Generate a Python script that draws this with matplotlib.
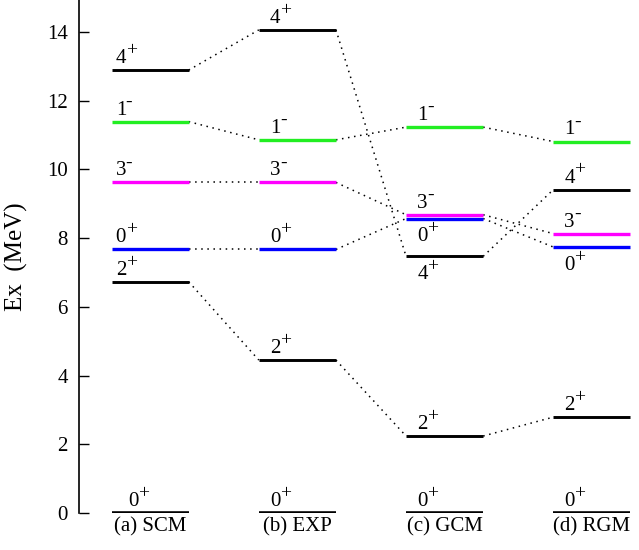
import matplotlib
matplotlib.use("Agg")
from matplotlib import pyplot as plt

plt.rcParams["font.family"] = "Liberation Serif"

# models along the x axis
models = ["(a) SCM", "(b) EXP", "(c) GCM", "(d) RGM"]

# levels per state, one value per model
states = ["0+", "2+", "0+*", "3-", "1-", "4+"]
spins = ["0", "2", "0", "3", "1", "4"]
parities = ["+", "+", "+", "-", "-", "+"]
energies = {
    "0+":  [0.0, 0.0, 0.0, 0.0],
    "2+":  [6.73, 4.45, 2.24, 2.79],
    "0+*": [7.67, 7.67, 8.57, 7.74],
    "3-":  [9.62, 9.62, 8.68, 8.13],
    "1-":  [11.39, 10.86, 11.23, 10.81],
    "4+":  [12.89, 14.06, 7.47, 9.41],
}
colors = {"0+": "black", "2+": "black", "0+*": "#0000ff",
          "3-": "#ff00ff", "1-": "#22ee22", "4+": "black"}
# states linked by dotted lines between neighbouring models
linked = ["2+", "0+*", "3-", "1-", "4+"]
# labels drawn under the level instead of over it: (state, model index)
below = [("0+*", 2), ("4+", 2), ("0+*", 3)]

hw = 0.262

fig = plt.figure(figsize=(6.39, 5.5), dpi=100)
ax = fig.add_axes([79 / 639, 0.0673, 1 - 79 / 639, 0.9327])


def level_label(x, y, spin, par, dx, dy, va):
    ax.annotate(spin, (x, y), xytext=(dx, dy), textcoords="offset points",
                ha="left", va=va, fontsize=15)
    ax.annotate(par, (x, y), xytext=(dx + 7.2, dy + 6.5), textcoords="offset points",
                ha="left", va=va, fontsize=14)


for s, sp_, par in zip(states, spins, parities):
    ys = energies[s]
    for i, y in enumerate(ys):
        lw = 2.4 if colors[s] != "black" else 2.1
        if s == "0+":
            lw = 2.6
        ax.plot([i - hw, i + hw], [y, y], color=colors[s], lw=lw,
                solid_capstyle="butt", zorder=3)
        if (s, i) in below:
            level_label(i - hw, y, sp_, par, 8, -20, "bottom")
        else:
            dx = 8 if i > 0 else 3
            if i == 0 and s == "0+":
                dx = 12
            level_label(i - hw, y, sp_, par, dx, 1.5, "bottom")
    if s in linked:
        for i in range(len(ys) - 1):
            ax.plot([i + hw, i + 1 - hw], [ys[i], ys[i + 1]], color="black",
                    lw=1.1, dashes=(1, 3), zorder=2)

ax.set_xlim(-0.483, 3.32)
ax.set_ylim(0, 14.93)
ax.set_yticks([0, 2, 4, 6, 8, 10, 12, 14])
ax.set_xticks(range(len(models)))
ax.set_xticklabels(models, fontsize=15)
ax.tick_params(axis="x", length=0, pad=3)
ax.tick_params(axis="y", direction="in", length=7, width=1, labelsize=15, pad=8)
for sp in ["top", "right", "bottom"]:
    ax.spines[sp].set_visible(False)
ax.spines["left"].set_linewidth(1.2)
ax.set_ylabel("Ex  (MeV)", fontsize=18, labelpad=14)

fig.savefig("out.png", dpi=100)
